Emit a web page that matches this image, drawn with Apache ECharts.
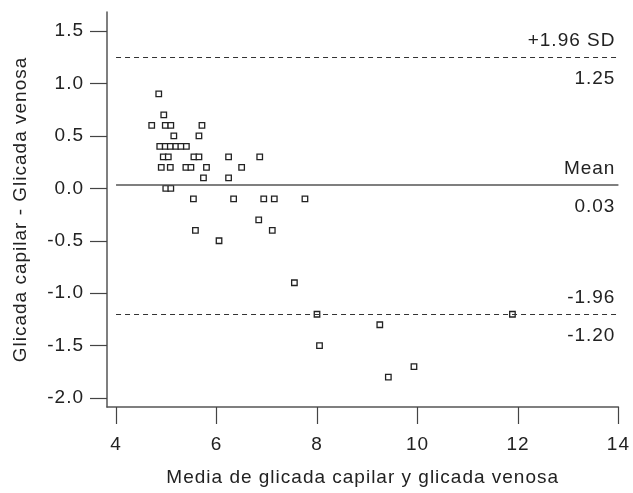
<!DOCTYPE html>
<html>
<head>
<meta charset="utf-8">
<script src="https://cdn.jsdelivr.net/npm/echarts@6/dist/echarts.min.js"></script>
<style>
html,body{margin:0;padding:0;background:#fff;}
#chart{width:633px;height:493px;}
</style>
</head>
<body>
<div id="chart"></div>
<script>
// Mean of the two measurements (x) and difference capillary - venous (y)
var meanValues = [4.85, 4.95, 4.71, 4.98, 5.09, 5.71, 5.15, 5.65,
  4.87, 4.98, 5.08, 5.19, 5.29, 5.40,
  4.94, 5.04, 5.55, 5.65, 6.24, 6.86,
  4.90, 5.08, 5.39, 5.49, 5.80, 6.50,
  5.74, 6.24, 4.99, 5.09,
  5.54, 6.34, 6.94, 7.15, 7.76,
  6.84, 5.58, 7.11, 6.05, 7.55,
  8.00, 9.25, 8.05, 9.93, 9.42, 11.89];
var diffValues = [0.9, 0.7, 0.6, 0.6, 0.6, 0.6, 0.5, 0.5,
  0.4, 0.4, 0.4, 0.4, 0.4, 0.4,
  0.3, 0.3, 0.3, 0.3, 0.3, 0.3,
  0.2, 0.2, 0.2, 0.2, 0.2, 0.2,
  0.1, 0.1, 0.0, 0.0,
  -0.1, -0.1, -0.1, -0.1, -0.1,
  -0.3, -0.4, -0.4, -0.5, -0.9,
  -1.2, -1.3, -1.5, -1.7, -1.8, -1.2];
var xTicks = [4, 6, 8, 10, 12, 14];
var yTicks = [-2.0, -1.5, -1.0, -0.5, 0.0, 0.5, 1.0, 1.5];
var meanDiff = 0.03;
var upperLimit = 1.25;
var lowerLimit = -1.20;
var lineStart = 4, lineEnd = 14;

// slightly wider letter spacing, like the original typesetting
(function () {
  var P = window.CanvasRenderingContext2D && CanvasRenderingContext2D.prototype;
  if (!P) return;
  var ft = P.fillText, st = P.strokeText, mt = P.measureText;
  P.fillText = function () { this.letterSpacing = '1px'; return ft.apply(this, arguments); };
  P.strokeText = function () { this.letterSpacing = '1px'; return st.apply(this, arguments); };
  P.measureText = function () { this.letterSpacing = '1px'; return mt.apply(this, arguments); };
})();

var points = meanValues.map(function (v, i) { return [v, diffValues[i]]; });

var FONT = 'Liberation Sans, Arial, Helvetica, sans-serif';
var TXT = '#222';
var FS = 19;

function refLine(y, topText, bottomText, dashed, color, width) {
  var ls = { type: dashed ? [5, 4] : 'solid', color: color, width: width };
  return [
    [{ coord: [lineStart, y], lineStyle: ls,
       label: { show: true, position: 'insideEndTop', formatter: topText, distance: [3, 6],
                color: TXT, fontSize: FS, fontFamily: FONT } },
     { coord: [lineEnd, y] }],
    [{ coord: [lineStart, y], lineStyle: { color: 'rgba(0,0,0,0)', width: 1 },
       label: { show: true, position: 'insideEndBottom', formatter: bottomText, distance: [3, 12],
                color: TXT, fontSize: FS, fontFamily: FONT } },
     { coord: [lineEnd, y] }]
  ];
}

var markData = [].concat(
  refLine(upperLimit, '+1.96 SD', upperLimit.toFixed(2), true, '#333', 1),
  refLine(meanDiff, 'Mean', meanDiff.toFixed(2), false, '#555', 1.6),
  refLine(lowerLimit, '-1.96', lowerLimit.toFixed(2), true, '#333', 1)
);

var chart = echarts.init(document.getElementById('chart'), null, { renderer: 'canvas' });
chart.setOption({
  animation: false,
  backgroundColor: '#fff',
  grid: { left: 107, right: 12, top: 12, bottom: 77, containLabel: false },
  xAxis: {
    type: 'value', min: 3.82, max: 14,
    name: 'Media de glicada capilar y glicada venosa',
    nameLocation: 'middle', nameGap: 61,
    nameTextStyle: { fontSize: FS, color: TXT, fontFamily: FONT },
    splitLine: { show: false },
    axisLine: { show: true, onZero: false, lineStyle: { color: '#555', width: 1.5 } },
    axisTick: { show: true, length: 17, customValues: xTicks, lineStyle: { color: '#444', width: 1.2 } },
    axisLabel: { customValues: xTicks, margin: 28, fontSize: FS, color: TXT, fontFamily: FONT,
                 formatter: function (v) { return String(v); } }
  },
  yAxis: {
    type: 'value', min: -2.084, max: 1.68,
    name: 'Glicada capilar - Glicada venosa',
    nameLocation: 'middle', nameGap: 76, nameRotate: 90,
    nameTextStyle: { fontSize: FS, color: TXT, fontFamily: FONT },
    splitLine: { show: false },
    axisLine: { show: true, onZero: false, lineStyle: { color: '#555', width: 1.5 } },
    axisTick: { show: true, length: 17, customValues: yTicks, lineStyle: { color: '#444', width: 1.2 } },
    axisLabel: { customValues: yTicks, margin: 23, fontSize: FS, color: TXT, fontFamily: FONT,
                 formatter: function (v) { return v.toFixed(1); } }
  },
  series: [{
    type: 'scatter',
    data: points,
    symbol: 'rect',
    symbolSize: 5.5,
    itemStyle: { color: '#fff', borderColor: '#222', borderWidth: 1.3, opacity: 1 },
    markLine: {
      silent: true,
      symbol: 'none',
      animation: false,
      data: markData
    },
    z: 3
  }]
});
</script>
</body>
</html>
